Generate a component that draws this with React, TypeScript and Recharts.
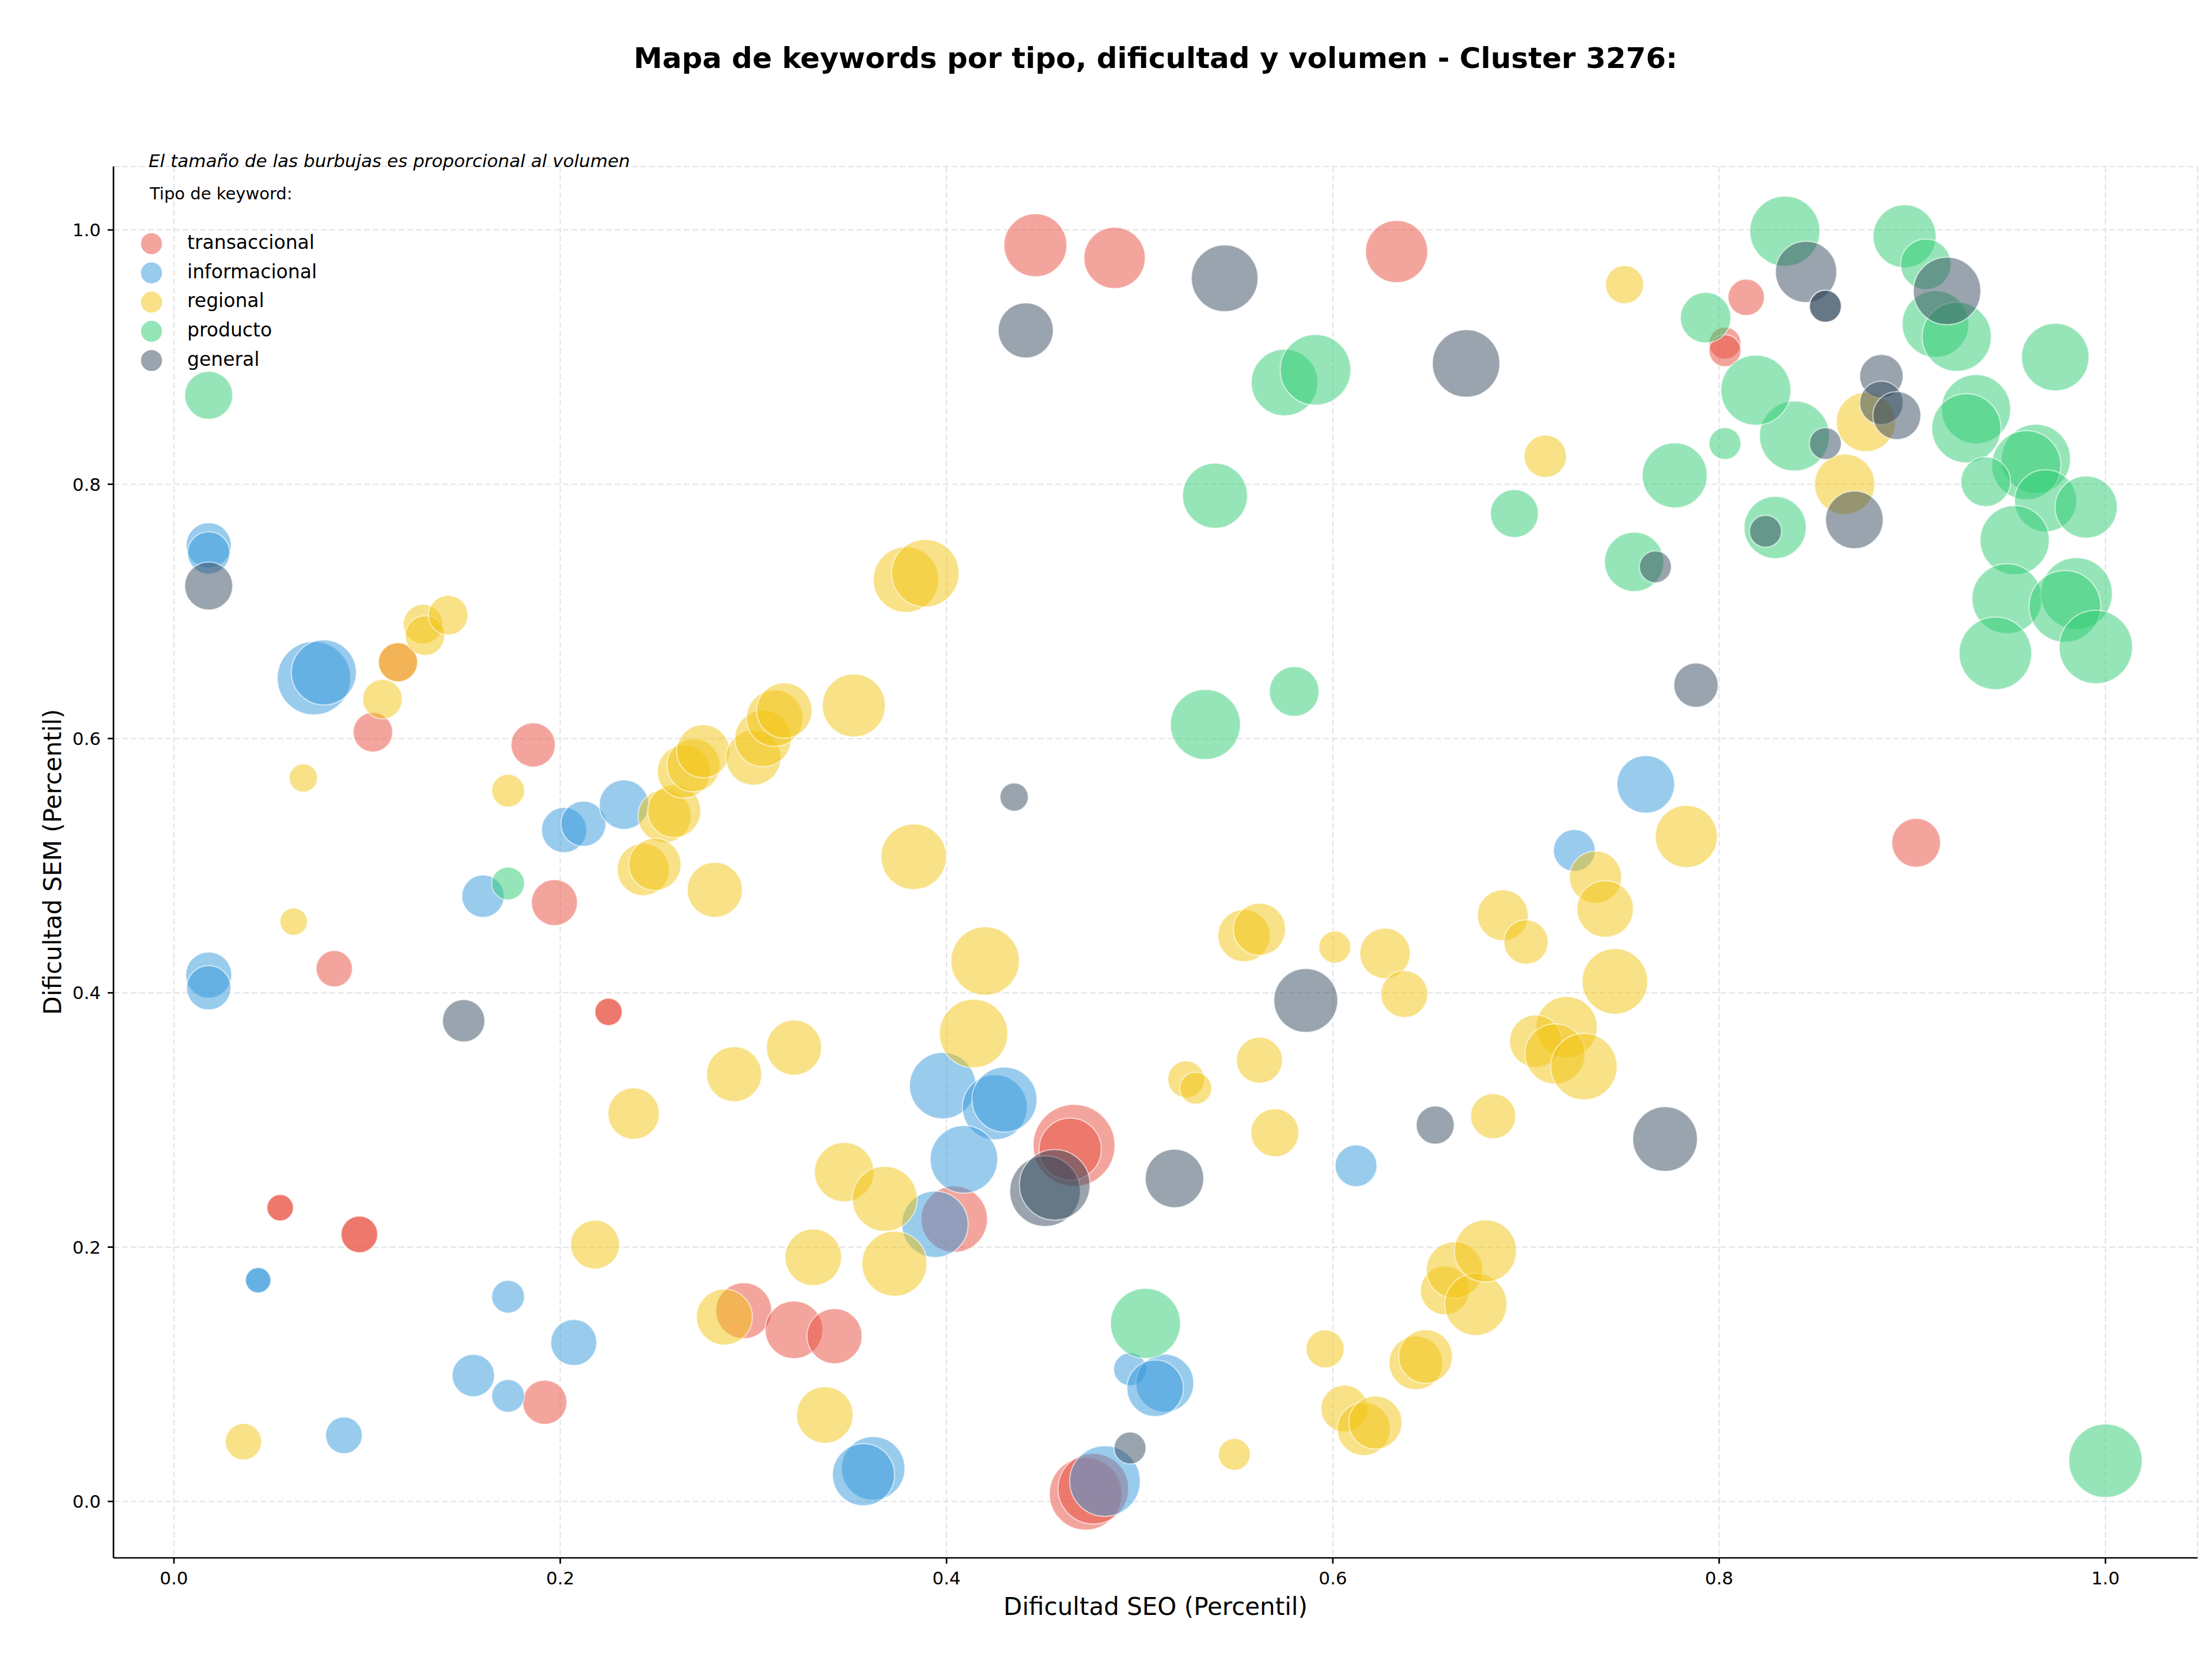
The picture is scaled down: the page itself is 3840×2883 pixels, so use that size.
import { ScatterChart, Scatter, XAxis, YAxis, ZAxis, CartesianGrid } from "recharts";

// x = dificultad SEO, y = dificultad SEM, v = volumen de búsqueda
type Kw = { x: number; y: number; v: number };

const TICKS = [0, 0.2, 0.4, 0.6, 0.8, 1.0];

const transaccional: Kw[] = [
  { x: 0.103, y: 0.605, v: 1960 }, { x: 0.116, y: 0.66, v: 1930 }, { x: 0.186, y: 0.595, v: 2460 },
  { x: 0.197, y: 0.471, v: 2660 }, { x: 0.083, y: 0.419, v: 1660 }, { x: 0.225, y: 0.385, v: 940 },
  { x: 0.225, y: 0.385, v: 940 }, { x: 0.055, y: 0.231, v: 880 }, { x: 0.055, y: 0.231, v: 880 },
  { x: 0.096, y: 0.21, v: 1690 }, { x: 0.096, y: 0.21, v: 1690 }, { x: 0.192, y: 0.078, v: 2460 },
  { x: 0.295, y: 0.15, v: 3920 }, { x: 0.321, y: 0.135, v: 4160 }, { x: 0.342, y: 0.13, v: 3800 },
  { x: 0.404, y: 0.222, v: 5520 }, { x: 0.466, y: 0.28, v: 8410 }, { x: 0.464, y: 0.277, v: 4840 },
  { x: 0.472, y: 0.006, v: 6600 }, { x: 0.476, y: 0.01, v: 6250 }, { x: 0.446, y: 0.988, v: 4970 },
  { x: 0.487, y: 0.978, v: 4710 }, { x: 0.633, y: 0.983, v: 4840 }, { x: 0.814, y: 0.947, v: 1660 },
  { x: 0.803, y: 0.911, v: 1280 }, { x: 0.803, y: 0.905, v: 1280 }, { x: 0.902, y: 0.518, v: 2990 },
];

const informacional: Kw[] = [
  { x: 0.018, y: 0.752, v: 2560 }, { x: 0.018, y: 0.746, v: 2250 }, { x: 0.0725, y: 0.6475, v: 6760 },
  { x: 0.0776, y: 0.652, v: 5290 }, { x: 0.202, y: 0.528, v: 2560 }, { x: 0.212, y: 0.533, v: 2560 },
  { x: 0.233, y: 0.548, v: 3060 }, { x: 0.16, y: 0.476, v: 2250 }, { x: 0.018, y: 0.414, v: 2660 },
  { x: 0.018, y: 0.404, v: 2460 }, { x: 0.0436, y: 0.174, v: 810 }, { x: 0.0436, y: 0.174, v: 810 },
  { x: 0.173, y: 0.161, v: 1350 }, { x: 0.207, y: 0.125, v: 2660 }, { x: 0.155, y: 0.099, v: 2250 },
  { x: 0.173, y: 0.083, v: 1350 }, { x: 0.088, y: 0.052, v: 1690 }, { x: 0.398, y: 0.327, v: 5520 },
  { x: 0.425, y: 0.31, v: 5290 }, { x: 0.43, y: 0.316, v: 5290 }, { x: 0.409, y: 0.269, v: 5710 },
  { x: 0.394, y: 0.218, v: 5520 }, { x: 0.362, y: 0.026, v: 5060 }, { x: 0.357, y: 0.021, v: 4840 },
  { x: 0.495, y: 0.104, v: 1350 }, { x: 0.513, y: 0.093, v: 4200 }, { x: 0.508, y: 0.089, v: 4000 },
  { x: 0.482, y: 0.016, v: 6250 }, { x: 0.612, y: 0.264, v: 2190 }, { x: 0.762, y: 0.564, v: 4160 },
  { x: 0.725, y: 0.512, v: 2190 },
];

const regional: Kw[] = [
  { x: 0.116, y: 0.66, v: 1930 }, { x: 0.129, y: 0.69, v: 1960 }, { x: 0.13, y: 0.681, v: 1960 },
  { x: 0.142, y: 0.697, v: 1960 }, { x: 0.108, y: 0.631, v: 1960 }, { x: 0.067, y: 0.569, v: 1000 },
  { x: 0.173, y: 0.559, v: 1350 }, { x: 0.062, y: 0.456, v: 940 }, { x: 0.254, y: 0.539, v: 3530 },
  { x: 0.259, y: 0.543, v: 3530 }, { x: 0.243, y: 0.497, v: 3420 }, { x: 0.249, y: 0.501, v: 3420 },
  { x: 0.264, y: 0.574, v: 3530 }, { x: 0.269, y: 0.579, v: 3530 }, { x: 0.274, y: 0.59, v: 3530 },
  { x: 0.3, y: 0.585, v: 3800 }, { x: 0.305, y: 0.6, v: 4000 }, { x: 0.311, y: 0.616, v: 4000 },
  { x: 0.316, y: 0.622, v: 3840 }, { x: 0.28, y: 0.481, v: 3800 }, { x: 0.352, y: 0.626, v: 4970 },
  { x: 0.379, y: 0.725, v: 5380 }, { x: 0.389, y: 0.73, v: 5710 }, { x: 0.383, y: 0.507, v: 5380 },
  { x: 0.42, y: 0.425, v: 5860 }, { x: 0.414, y: 0.368, v: 5860 }, { x: 0.321, y: 0.357, v: 3800 },
  { x: 0.29, y: 0.336, v: 3800 }, { x: 0.238, y: 0.305, v: 3310 }, { x: 0.218, y: 0.202, v: 2990 },
  { x: 0.036, y: 0.047, v: 1660 }, { x: 0.285, y: 0.145, v: 3920 }, { x: 0.331, y: 0.192, v: 4000 },
  { x: 0.337, y: 0.068, v: 4000 }, { x: 0.347, y: 0.259, v: 4410 }, { x: 0.368, y: 0.238, v: 5290 },
  { x: 0.373, y: 0.187, v: 5290 }, { x: 0.524, y: 0.332, v: 1690 }, { x: 0.529, y: 0.325, v: 1280 },
  { x: 0.554, y: 0.445, v: 3420 }, { x: 0.562, y: 0.45, v: 3420 }, { x: 0.601, y: 0.436, v: 1280 },
  { x: 0.627, y: 0.431, v: 3200 }, { x: 0.637, y: 0.399, v: 2760 }, { x: 0.562, y: 0.347, v: 2660 },
  { x: 0.57, y: 0.29, v: 2890 }, { x: 0.549, y: 0.037, v: 1280 }, { x: 0.596, y: 0.12, v: 1820 },
  { x: 0.606, y: 0.073, v: 2760 }, { x: 0.616, y: 0.057, v: 3530 }, { x: 0.622, y: 0.062, v: 3530 },
  { x: 0.643, y: 0.109, v: 3610 }, { x: 0.648, y: 0.114, v: 3610 }, { x: 0.658, y: 0.166, v: 2990 },
  { x: 0.663, y: 0.182, v: 4000 }, { x: 0.674, y: 0.155, v: 4840 }, { x: 0.679, y: 0.197, v: 4840 },
  { x: 0.683, y: 0.303, v: 2560 }, { x: 0.688, y: 0.461, v: 3240 }, { x: 0.7, y: 0.44, v: 2460 },
  { x: 0.736, y: 0.491, v: 3420 }, { x: 0.741, y: 0.466, v: 4000 }, { x: 0.746, y: 0.409, v: 5380 },
  { x: 0.721, y: 0.373, v: 4710 }, { x: 0.705, y: 0.362, v: 3420 }, { x: 0.715, y: 0.352, v: 4540 },
  { x: 0.73, y: 0.342, v: 5520 }, { x: 0.783, y: 0.523, v: 4840 }, { x: 0.751, y: 0.957, v: 1820 },
  { x: 0.71, y: 0.822, v: 2250 }, { x: 0.876, y: 0.849, v: 4410 }, { x: 0.865, y: 0.8, v: 4540 },
];

const producto: Kw[] = [
  { x: 0.018, y: 0.87, v: 2890 }, { x: 0.173, y: 0.486, v: 1350 }, { x: 0.534, y: 0.611, v: 6150 },
  { x: 0.58, y: 0.637, v: 3100 }, { x: 0.539, y: 0.791, v: 5290 }, { x: 0.575, y: 0.88, v: 5570 },
  { x: 0.591, y: 0.89, v: 6250 }, { x: 0.503, y: 0.14, v: 6150 }, { x: 1.0, y: 0.032, v: 6760 },
  { x: 0.694, y: 0.777, v: 2890 }, { x: 0.777, y: 0.807, v: 5290 }, { x: 0.756, y: 0.739, v: 4410 },
  { x: 0.829, y: 0.766, v: 4840 }, { x: 0.803, y: 0.832, v: 1280 }, { x: 0.839, y: 0.838, v: 6150 },
  { x: 0.819, y: 0.874, v: 6150 }, { x: 0.793, y: 0.931, v: 3200 }, { x: 0.834, y: 0.999, v: 6150 },
  { x: 0.896, y: 0.995, v: 4970 }, { x: 0.907, y: 0.973, v: 3200 }, { x: 0.912, y: 0.926, v: 5570 },
  { x: 0.923, y: 0.916, v: 6000 }, { x: 0.974, y: 0.9, v: 5710 }, { x: 0.933, y: 0.859, v: 6000 },
  { x: 0.928, y: 0.844, v: 6000 }, { x: 0.964, y: 0.82, v: 6000 }, { x: 0.959, y: 0.815, v: 6000 },
  { x: 0.938, y: 0.802, v: 3100 }, { x: 0.969, y: 0.787, v: 4840 }, { x: 0.99, y: 0.782, v: 4840 },
  { x: 0.953, y: 0.756, v: 6000 }, { x: 0.949, y: 0.71, v: 6150 }, { x: 0.985, y: 0.714, v: 6450 },
  { x: 0.979, y: 0.704, v: 6450 }, { x: 0.943, y: 0.667, v: 6600 }, { x: 0.995, y: 0.672, v: 6760 },
];

const general: Kw[] = [
  { x: 0.018, y: 0.72, v: 2890 }, { x: 0.15, y: 0.378, v: 2250 }, { x: 0.435, y: 0.554, v: 1000 },
  { x: 0.441, y: 0.921, v: 3800 }, { x: 0.544, y: 0.962, v: 5570 }, { x: 0.669, y: 0.895, v: 5710 },
  { x: 0.451, y: 0.244, v: 6250 }, { x: 0.456, y: 0.249, v: 6250 }, { x: 0.518, y: 0.254, v: 4280 },
  { x: 0.495, y: 0.042, v: 1280 }, { x: 0.586, y: 0.394, v: 5110 }, { x: 0.653, y: 0.296, v: 1820 },
  { x: 0.772, y: 0.285, v: 5240 }, { x: 0.788, y: 0.642, v: 2460 }, { x: 0.767, y: 0.735, v: 1280 },
  { x: 0.824, y: 0.763, v: 1280 }, { x: 0.855, y: 0.832, v: 1280 }, { x: 0.87, y: 0.772, v: 4160 },
  { x: 0.884, y: 0.885, v: 2370 }, { x: 0.884, y: 0.864, v: 2370 }, { x: 0.892, y: 0.854, v: 2890 },
  { x: 0.845, y: 0.967, v: 4710 }, { x: 0.855, y: 0.94, v: 1280 }, { x: 0.855, y: 0.94, v: 1280 },
  { x: 0.918, y: 0.952, v: 5710 },
];

const SERIES = [
  { name: "transaccional", color: "#e74c3c", data: transaccional },
  { name: "informacional", color: "#3498db", data: informacional },
  { name: "regional", color: "#f1c40f", data: regional },
  { name: "producto", color: "#2ecc71", data: producto },
  { name: "general", color: "#34495e", data: general },
];

const W = 3840;
const H = 2883;
const FONT = "'DejaVu Sans', sans-serif";
const tickStyle = { fill: "#000", fontSize: 31, fontFamily: FONT };
const axisLine = { stroke: "#000", strokeWidth: 2.7 };

function Bubble(props: any) {
  const { cx, cy, fill } = props;
  const r = props.width ? props.width / 2 : Math.sqrt((props.size || 0) / Math.PI);
  return (
    <circle cx={cx} cy={cy} r={r} fill={fill} fillOpacity={0.5}
      stroke="#fff" strokeOpacity={0.6} strokeWidth={2} />
  );
}

function Overlay() {
  return (
    <svg width={W} height={H} style={{ position: "absolute", left: 0, top: 0, pointerEvents: "none" }}
      fontFamily={FONT}>
      <text x={2006} y={118} textAnchor="middle" fontSize={50} fontWeight="bold" fill="#000">
        Mapa de keywords por tipo, dificultad y volumen - Cluster 3276:
      </text>
      <text x={258} y={290} fontSize={31} fontStyle="italic" fill="#000">
        El tamaño de las burbujas es proporcional al volumen
      </text>
      <text x={260} y={346} fontSize={29} fill="#000">Tipo de keyword:</text>
      {SERIES.map((s, i) => (
        <g key={s.name}>
          <circle cx={263} cy={423 + i * 50.7} r={18.3} fill={s.color} fillOpacity={0.5} />
          <text x={325} y={432 + i * 50.7} fontSize={33} fill="#000">{s.name}</text>
        </g>
      ))}
      <text x={2006} y={2803} textAnchor="middle" fontSize={42} fill="#000">Dificultad SEO (Percentil)</text>
      <text x={106} y={1496} textAnchor="middle" fontSize={42} fill="#000"
        transform="rotate(-90 106 1496)">Dificultad SEM (Percentil)</text>
    </svg>
  );
}

export default function App() {
  return (
    <div style={{ position: "absolute", left: 0, top: 0, width: W, height: H, background: "#fff" }}>
      <ScatterChart width={W} height={H} margin={{ top: 289, right: 25, bottom: 0, left: 0 }}>
        <CartesianGrid stroke="#e2e2e2" strokeDasharray="10 5" strokeWidth={2} />
        <XAxis type="number" dataKey="x" domain={[-0.0313, 1.0477]} ticks={TICKS} allowDataOverflow
          tickFormatter={(v: number) => v.toFixed(1)} height={179} tick={tickStyle}
          tickSize={10} tickMargin={14} axisLine={axisLine} tickLine={axisLine} />
        <YAxis type="number" dataKey="y" domain={[-0.0444, 1.0499]} ticks={TICKS} allowDataOverflow
          tickFormatter={(v: number) => v.toFixed(1)} width={197} tick={tickStyle}
          tickSize={10} tickMargin={12} axisLine={axisLine} tickLine={axisLine} />
        <ZAxis type="number" dataKey="v" domain={[0, 10000]} range={[0, 18840]} />
        {SERIES.map((s) => (
          <Scatter key={s.name} name={s.name} data={s.data} fill={s.color}
            shape={Bubble} isAnimationActive={false} />
        ))}
      </ScatterChart>
      <Overlay />
    </div>
  );
}
